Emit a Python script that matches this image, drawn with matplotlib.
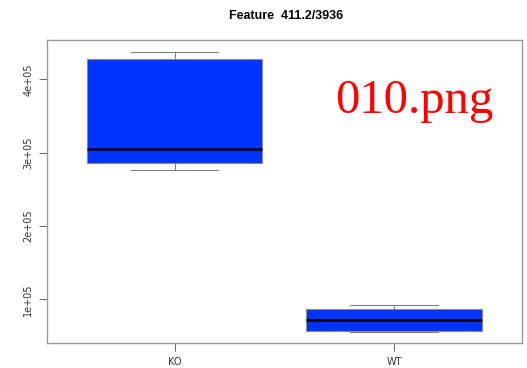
import matplotlib

matplotlib.use("Agg")
import matplotlib.pyplot as plt

# group statistics
groups = ["KO", "WT"]
whislo = [2.758e5, 0.56e5]
q1 = [2.857e5, 0.569e5]
med = [3.052e5, 0.723e5]
q3 = [4.273e5, 0.865e5]
whishi = [4.373e5, 0.923e5]
yticks = [1e5, 2e5, 3e5, 4e5]
ytick_labels = ["1e+05", "2e+05", "3e+05", "4e+05"]

fig = plt.figure(figsize=(5.27, 3.68), dpi=100)
ax = fig.add_axes([0.0892, 0.0688, 0.901, 0.8222])

stats = [
    {"label": g, "whislo": lo, "q1": a, "med": m, "q3": b, "whishi": hi, "fliers": []}
    for g, lo, a, m, b, hi in zip(groups, whislo, q1, med, q3, whishi)
]
ax.bxp(
    stats,
    positions=[1, 2],
    widths=0.8,
    patch_artist=True,
    boxprops=dict(facecolor="#0033ff", edgecolor="#8a8a8a", linewidth=0.8),
    medianprops=dict(color="black", linewidth=1.8),
    whiskerprops=dict(color="#808080", linewidth=0.8, linestyle="-"),
    capprops=dict(color="#808080", linewidth=0.8),
    capwidths=0.4,
)

ax.set_xlim(0.42, 2.58)
ax.set_ylim(0.41e5, 4.535e5)
ax.set_yticks(yticks)
ax.set_yticklabels(ytick_labels, rotation=90, va="center", fontsize=7, color="#333333")
ax.set_xticks([1, 2])
ax.set_xticklabels(groups, fontsize=7, color="#333333")
ax.tick_params(axis="both", length=6, width=0.7, color="#666666", pad=4)
for spine in ax.spines.values():
    spine.set_color("#9a9a9a")
    spine.set_linewidth(1.0)

fig.text(0.543, 0.957, "Feature  411.2/3936", ha="center", va="center",
         fontsize=9, fontweight="bold", family="Liberation Sans")
fig.text(0.636, 0.693, "010.png", ha="left", va="baseline", fontsize=35,
         color="red", family="Liberation Serif")

fig.savefig("out.png", dpi=100)
